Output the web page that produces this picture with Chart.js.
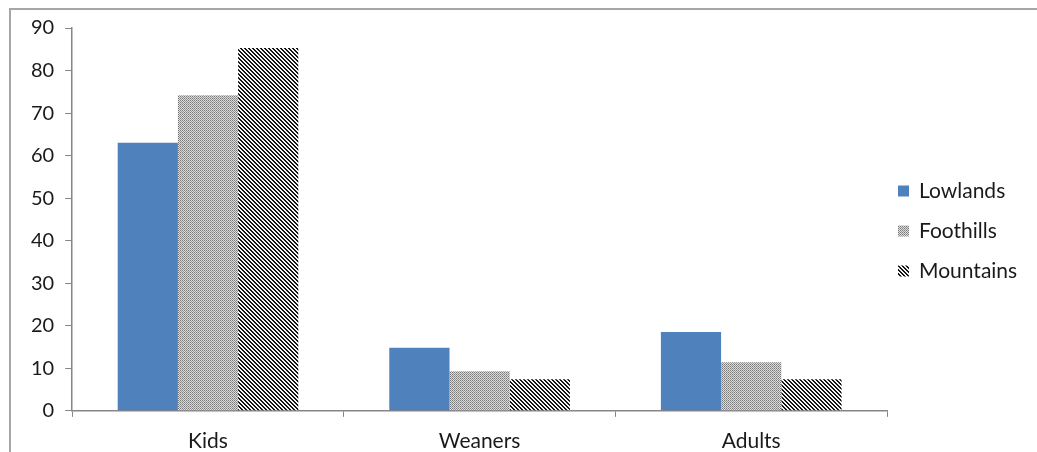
<!DOCTYPE html>
<html>
<head>
<meta charset="utf-8">
<title>Lowlands, Foothills, Mountains</title>
<script src="https://cdn.jsdelivr.net/npm/chart.js"></script>
<style>
  html, body { margin: 0; padding: 0; background: #fff; }
  #frame {
    position: absolute; left: 9px; top: 8px; width: 1100px; height: 500px;
    border-left: 2px solid #a6a6a6; border-top: 2px solid #a6a6a6;
  }
  #wrap { position: absolute; left: 0; top: 0; width: 1037px; height: 452px; }
</style>
</head>
<body>
<div id="frame"></div>
<div id="wrap"><canvas id="chart"></canvas></div>
<script>
// data
const categories = ["Kids", "Weaners", "Adults"];
const lowlands = [63, 14.8, 18.5];
const foothills = [74.2, 9.3, 11.4];
const mountains = [85.3, 7.4, 7.4];

const ctx = document.getElementById("chart").getContext("2d");
const font = "Lato, 'Open Sans', sans-serif";

// fill patterns
function makePattern(size, painter) {
  const c = document.createElement("canvas");
  c.width = size;
  c.height = size;
  const g = c.getContext("2d");
  const img = g.createImageData(size, size);
  for (let y = 0; y < size; y++) {
    for (let x = 0; x < size; x++) {
      const v = painter(x, y);
      const i = (y * size + x) * 4;
      img.data[i] = v;
      img.data[i + 1] = v;
      img.data[i + 2] = v;
      img.data[i + 3] = 255;
    }
  }
  g.putImageData(img, 0, 0);
  return ctx.createPattern(c, "repeat");
}

// fine gray dots
const dots = makePattern(4, (x, y) => {
  if ((x + y) % 2 === 0) return (y % 2 === 0) ? 120 : 150;
  return 220;
});

// dark diagonal stripes running top-left to bottom-right
const stripes = makePattern(8, (x, y) => {
  return ((x - y + 16) % 4) < 2 ? 20 : 245;
});

// legend drawn to the right of the plot
const sideLegend = {
  id: "sideLegend",
  afterDraw(chart) {
    const c = chart.ctx;
    const area = chart.chartArea;
    const x = area.right + 11;
    const mid = chart.height / 2 + 5;
    c.save();
    c.font = "21px " + font;
    c.textBaseline = "middle";
    chart.data.datasets.forEach((ds, i) => {
      const y = mid + (i - 1) * 40;
      c.fillStyle = ds.backgroundColor;
      c.fillRect(x, y - 5.5, 11, 11);
      c.fillStyle = "#1a1a1a";
      c.fillText(ds.label, x + 21, y);
    });
    c.restore();
  },
};

new Chart(ctx, {
  type: "bar",
  data: {
    labels: categories,
    datasets: [
      { label: "Lowlands", data: lowlands, backgroundColor: "#4f81bd" },
      { label: "Foothills", data: foothills, backgroundColor: dots },
      { label: "Mountains", data: mountains, backgroundColor: stripes },
    ],
  },
  options: {
    responsive: true,
    maintainAspectRatio: false,
    animation: false,
    categoryPercentage: 0.665,
    barPercentage: 1,
    layout: { padding: { left: 20, top: 28, right: 150, bottom: -14 } },
    plugins: {
      tooltip: { enabled: false },
      legend: { display: false },
    },
    scales: {
      x: {
        grid: {
          display: true,
          drawOnChartArea: false,
          tickLength: 6,
          color: "#868686",
        },
        border: { color: "#868686", width: 1.5 },
        ticks: { color: "#1a1a1a", padding: 12, font: { family: font, size: 21 } },
      },
      y: {
        min: 0,
        max: 90,
        grid: {
          display: true,
          drawOnChartArea: false,
          tickLength: 7,
          color: "#868686",
        },
        border: { color: "#868686", width: 1.5 },
        ticks: { stepSize: 10, color: "#1a1a1a", padding: 11, font: { family: font, size: 20 } },
      },
    },
  },
  plugins: [sideLegend],
});
</script>
</body>
</html>
